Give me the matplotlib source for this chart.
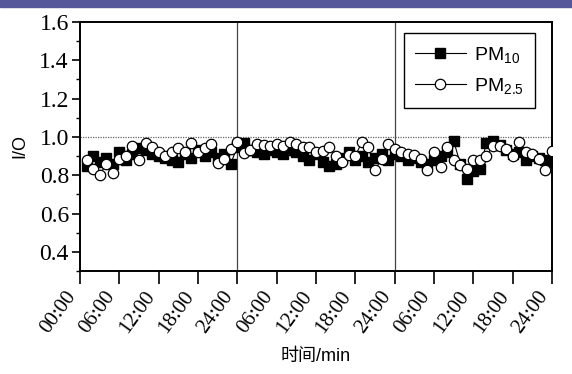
import numpy as np
import matplotlib
matplotlib.use("Agg")
from matplotlib import pyplot as plt
from matplotlib.patches import Rectangle

# hourly indoor/outdoor ratio over three days
hours = np.arange(1, 73)

pm10 = [0.85, 0.90, 0.87, 0.89, 0.86, 0.92, 0.88, 0.91, 0.94, 0.93, 0.91, 0.90,
        0.89, 0.88, 0.87, 0.91, 0.89, 0.93, 0.90, 0.92, 0.89, 0.91, 0.86, 0.95,
        0.97, 0.93, 0.92, 0.91, 0.93, 0.92, 0.91, 0.93, 0.92, 0.90, 0.88, 0.91,
        0.87, 0.85, 0.86, 0.89, 0.92, 0.88, 0.90, 0.87, 0.89, 0.91, 0.88, 0.91,
        0.90, 0.88, 0.89, 0.87, 0.86, 0.88, 0.90, 0.92, 0.98, 0.86, 0.78, 0.82,
        0.83, 0.97, 0.98, 0.96, 0.93, 0.91, 0.92, 0.88, 0.90, 0.89, 0.88, 0.87]

pm25 = [0.88, 0.83, 0.80, 0.86, 0.81, 0.885, 0.90, 0.954, 0.877, 0.967, 0.947, 0.92,
        0.90, 0.92, 0.94, 0.923, 0.967, 0.92, 0.942, 0.962, 0.865, 0.885, 0.937, 0.972,
        0.916, 0.932, 0.962, 0.96, 0.955, 0.962, 0.955, 0.972, 0.962, 0.946, 0.95, 0.92,
        0.928, 0.946, 0.90, 0.869, 0.906, 0.903, 0.971, 0.946, 0.826, 0.886, 0.962, 0.937,
        0.92, 0.911, 0.906, 0.886, 0.826, 0.92, 0.843, 0.946, 0.877, 0.851, 0.831, 0.877,
        0.877, 0.903, 0.954, 0.954, 0.937, 0.903, 0.971, 0.92, 0.911, 0.886, 0.826, 0.928]

tick_hours = np.arange(0, 73, 6)
tick_labels = ["00:00", "06:00", "12:00", "18:00", "24:00",
               "06:00", "12:00", "18:00", "24:00",
               "06:00", "12:00", "18:00", "24:00"]
day_bounds = [24, 48]

plt.rcParams['mathtext.fontset'] = 'custom'
plt.rcParams['mathtext.rm'] = 'Liberation Sans'
plt.rcParams['mathtext.it'] = 'Liberation Sans'

fig = plt.figure(figsize=(5.72, 3.74), dpi=100)
fig.patches.append(Rectangle((0, 1 - 7 / 374), 1, 7 / 374, transform=fig.transFigure,
                             color="#56569a", zorder=0))
ax = fig.add_axes([80 / 572, 1 - 271 / 374, 472 / 572, 249 / 374])

for d in day_bounds:
    ax.axvline(d, color="#444444", lw=0.9, zorder=1)
ax.axhline(1.0, color="#666666", lw=0.9, ls=(0, (1, 1)), zorder=1)

ax.plot(hours, pm10, color="black", lw=0.8, marker="s", ms=6.5,
        mfc="black", mec="black", label="PM$_{10}$", zorder=2)
ax.plot(hours, pm25, color="black", lw=0.8, marker="o", ms=7.5,
        mfc="white", mec="black", mew=0.9, label="PM$_{2.5}$", zorder=3)

ax.set_xlim(0, 72)
ax.set_ylim(0.3, 1.6)
ax.set_xticks(tick_hours)
ax.set_xticklabels(tick_labels, rotation=54, ha="right", va="top",
                   family="Liberation Serif", fontsize=15)
ax.set_yticks(np.arange(0.4, 1.61, 0.2))
ax.set_yticks(np.arange(0.3, 1.61, 0.1), minor=True)
ax.set_yticklabels(["%.1f" % v for v in np.arange(0.4, 1.61, 0.2)],
                   family="Liberation Serif", fontsize=17)
ax.tick_params(axis="x", direction="out", length=9, width=1.2, pad=3)
ax.tick_params(axis="y", which="major", direction="out", length=6, width=1.2, pad=2)
ax.tick_params(axis="y", which="minor", direction="out", length=3, width=1.0)
for s in ax.spines.values():
    s.set_linewidth(1.4)

ax.set_xlabel("时间/min", family=["Liberation Sans", "Noto Sans CJK SC"],
              fontsize=13, labelpad=8)
ax.set_ylabel("I/O", family="Liberation Sans", fontsize=13, labelpad=8)

leg = ax.legend(loc="upper right", bbox_to_anchor=(0.964, 0.956), borderaxespad=0,
                fancybox=False, framealpha=1, edgecolor="black",
                prop={"family": "Liberation Sans", "size": 14},
                handlelength=2.6, handletextpad=0.4, labelspacing=0.6,
                borderpad=0.6)
leg.get_frame().set_linewidth(1.0)

fig.savefig("out.png", dpi=100)
